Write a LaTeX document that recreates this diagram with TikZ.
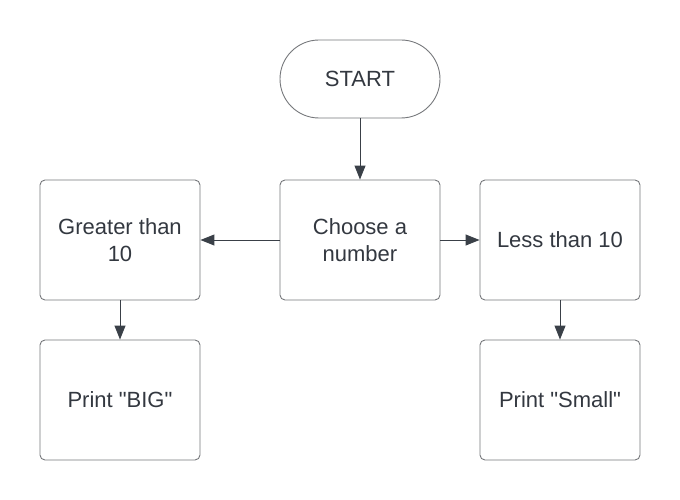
\documentclass[tikz,border=0pt]{standalone}
\usepackage{fontspec}
\setmainfont{Liberation Sans}[Ligatures=TeXOff]
\usetikzlibrary{arrows.meta,positioning}
\definecolor{edgegray}{HTML}{75777B}
\definecolor{txtgray}{HTML}{333840}
\definecolor{arrgray}{HTML}{3A4048}
\tikzset{
  box/.style={draw=edgegray, line width=0.9pt, rounded corners=5pt, minimum width=160pt, minimum height=120pt, align=center, text=txtgray, font=\fontsize{22}{27}\selectfont, inner sep=0pt},
  term/.style={draw=edgegray, line width=0.9pt, rounded corners=39pt, minimum width=160pt, minimum height=78pt, align=center, text=txtgray, font=\fontsize{22}{27}\selectfont, inner sep=0pt},
  conn/.style={draw=arrgray, line width=1pt, -{Triangle[length=14pt,width=11pt]}}
}
\begin{document}
\begin{tikzpicture}[x=1pt,y=-1pt]
\useasboundingbox (0,0) rectangle (680,500);
\node[term] (start) at (360,79) {START};
\node[box] (choose) at (360,240) {Choose a\\number};
\node[box] (greater) at (120,240) {Greater than\\10};
\node[box] (less) at (560,240) {Less than 10};
\node[box] (big) at (120,400) {Print "BIG"};
\node[box] (small) at (560,400) {Print "Small"};
\draw[conn] (start) -- (choose);
\draw[conn] (choose) -- (greater);
\draw[conn] (choose) -- (less);
\draw[conn] (greater) -- (big);
\draw[conn] (less) -- (small);
\end{tikzpicture}
\end{document}
